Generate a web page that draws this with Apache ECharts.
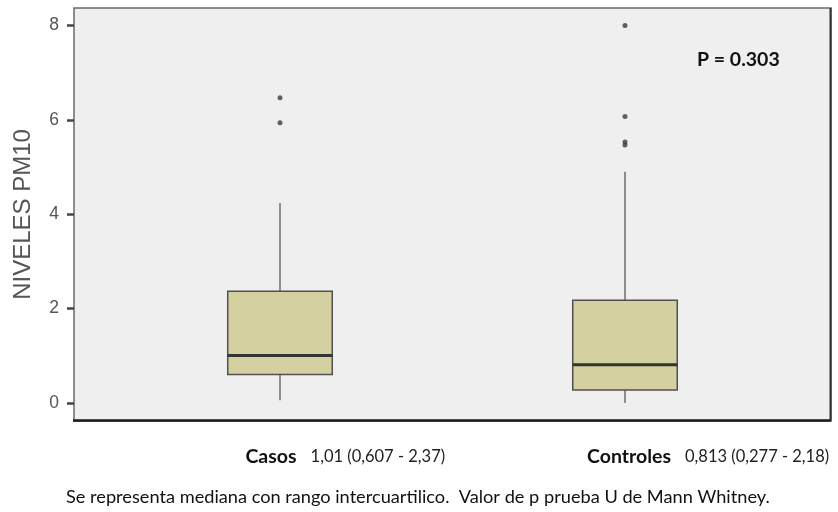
<!DOCTYPE html>
<html>
<head>
<meta charset="utf-8">
<script src="https://cdn.jsdelivr.net/npm/echarts@6/dist/echarts.min.js"></script>
<style>
html,body{margin:0;padding:0;background:#fff;}
#c{width:838px;height:512px;}
</style>
</head>
<body>
<div id="c"></div>
<script>
// ---- data ----
const categories = ['Casos', 'Controles'];
const statLabels = ['1,01 (0,607 - 2,37)', '0,813 (0,277 - 2,18)'];
// [low whisker, Q1, median, Q3, high whisker]
const casosBox = [0.06, 0.607, 1.01, 2.37, 4.24];
const controlesBox = [0.0, 0.277, 0.813, 2.18, 4.9];
const casosOutliers = [6.47, 5.94];
const controlesOutliers = [8.0, 6.07, 5.53, 5.47];
const yTicks = [0, 2, 4, 6, 8];
const yTitle = 'NIVELES PM10';
const pText = 'P = 0.303';
const footnote = 'Se representa mediana con rango intercuartilico.  Valor de p prueba U de Mann Whitney.';

const boxes = [casosBox, controlesBox];
const outliers = [casosOutliers, controlesOutliers];

const chart = echarts.init(document.getElementById('c'), null, {renderer: 'canvas'});

// measure text widths for label layout
const cv = document.createElement('canvas').getContext('2d');
function tw(font, s) { cv.font = font; return cv.measureText(s).width; }
const statFont = '16.5px Lato';
const gap = 14;
const labelNudge = [-9, 4]; // horizontal nudge of each category label (layout only)

const rich = {
  b: {fontFamily: 'Lato', fontWeight: 'bold', fontSize: 19.5, color: '#111'},
  g: {width: gap},
  s: {fontFamily: 'Lato', fontSize: 16.5, color: '#222'}
};
categories.forEach((c, i) => {
  rich['p' + i] = {width: Math.max(0, gap + tw(statFont, statLabels[i]) + 2 * labelNudge[i])};
});

const boxData = boxes.map((b, i) => [i].concat(b));
const outData = [];
outliers.forEach((arr, i) => arr.forEach(v => outData.push([i, v])));

const yMin = -0.38, yMax = 8.37;

chart.setOption({
  animation: false,
  backgroundColor: '#ffffff',
  grid: [
    {left: 74, right: 7, top: 8, bottom: 91, show: true, backgroundColor: '#efefef', borderColor: '#6a6a6a', borderWidth: 1.5},
    {left: 107.5, right: 40.5, top: 8, bottom: 91}
  ],
  xAxis: [
    {gridIndex: 0, type: 'value', min: 0, max: 1, show: true,
      axisLine: {show: false}, axisTick: {show: false}, axisLabel: {show: false}, splitLine: {show: false}},
    {gridIndex: 1, type: 'category', data: categories,
      axisLine: {show: false}, axisTick: {show: false}, splitLine: {show: false},
      axisLabel: {
        margin: 26,
        formatter: function (v, idx) {
          return '{p' + idx + '|}{b|' + v + '}{g|}{s|' + statLabels[idx] + '}';
        },
        rich: rich
      }}
  ],
  yAxis: [
    {gridIndex: 0, type: 'value', min: yMin, max: yMax, position: 'left',
      name: yTitle, nameLocation: 'middle', nameGap: 39,
      nameTextStyle: {fontFamily: 'Liberation Sans', fontSize: 24, color: '#555'},
      axisLine: {show: false, onZero: false},
      axisTick: {show: true, length: 7, lineStyle: {color: '#444', width: 2.5}, customValues: yTicks},
      axisLabel: {margin: 15, fontFamily: 'Liberation Sans', fontSize: 17.5, color: '#555', customValues: yTicks},
      splitLine: {show: false}},
    {gridIndex: 1, type: 'value', min: yMin, max: yMax, show: false}
  ],
  graphic: [
    // dark bottom and right frame lines
    {type: 'line', shape: {x1: 73, y1: 420.5, x2: 831, y2: 420.5}, style: {stroke: '#1a1a1a', lineWidth: 2.5}, z: 10},
    {type: 'line', shape: {x1: 830.5, y1: 8, x2: 830.5, y2: 421}, style: {stroke: '#333', lineWidth: 2}, z: 10},
    {type: 'text', left: 697, top: 50, style: {text: pText, font: 'bold 19.5px Lato', fill: '#111'}, z: 10},
    {type: 'text', left: 66, top: 488, style: {text: footnote, font: '18.2px Lato', fill: '#111'}, z: 10}
  ],
  series: [
    {
      type: 'custom',
      xAxisIndex: 1, yAxisIndex: 1,
      data: boxData,
      renderItem: function (params, api) {
        const x = api.value(0);
        const lo = api.coord([x, api.value(1)]);
        const q1 = api.coord([x, api.value(2)]);
        const md = api.coord([x, api.value(3)]);
        const q3 = api.coord([x, api.value(4)]);
        const hi = api.coord([x, api.value(5)]);
        const bw = api.size([1, 0])[0] * 0.303;
        const cx = q1[0];
        return {
          type: 'group',
          children: [
            {type: 'line', shape: {x1: cx, y1: q3[1], x2: cx, y2: hi[1]}, style: {stroke: '#6e6e6e', lineWidth: 1.5}},
            {type: 'line', shape: {x1: cx, y1: q1[1], x2: cx, y2: lo[1]}, style: {stroke: '#6e6e6e', lineWidth: 1.5}},
            {type: 'rect', shape: {x: cx - bw / 2, y: q3[1], width: bw, height: q1[1] - q3[1]},
              style: {fill: '#d4d0a0', stroke: '#505050', lineWidth: 1.5}},
            {type: 'line', shape: {x1: cx - bw / 2, y1: md[1], x2: cx + bw / 2, y2: md[1]}, style: {stroke: '#333', lineWidth: 3}}
          ]
        };
      }
    },
    {
      type: 'scatter',
      xAxisIndex: 1, yAxisIndex: 1,
      data: outData,
      symbol: 'circle',
      symbolSize: 5,
      itemStyle: {color: '#3c3c3c'}
    }
  ]
});
</script>
</body>
</html>
